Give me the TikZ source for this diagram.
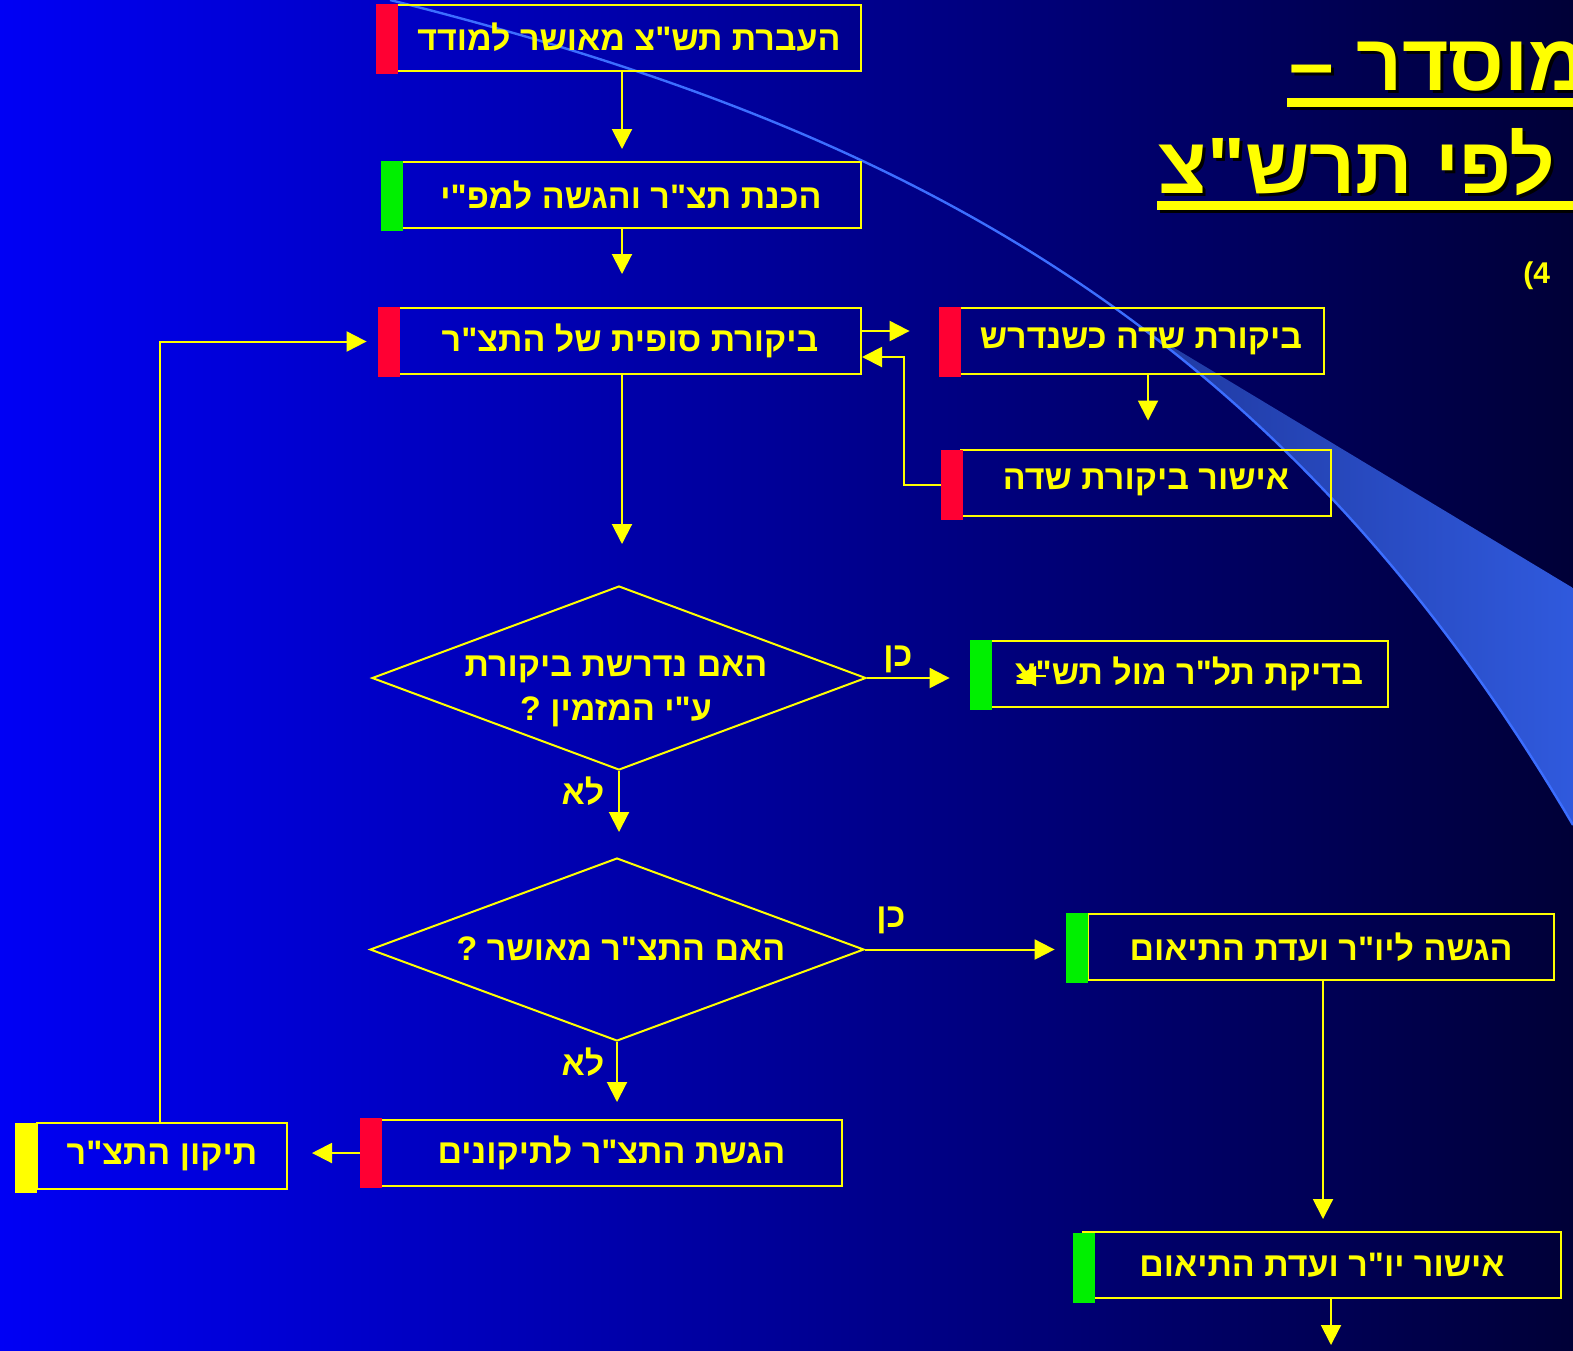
\documentclass[tikz,border=0pt]{standalone}
\usepackage{fontspec}
\usetikzlibrary{arrows.meta,shapes.geometric,calc}
\TeXXeTstate=1
\newfontfamily\heb[Script=Hebrew]{Liberation Sans}
\newfontfamily\latf{Liberation Sans}
\newcommand{\RL}[1]{\beginR#1\endR}
\newcommand{\bt}[2]{\RL{#2}\hspace{#1pt}}
\definecolor{ylw}{RGB}{255,255,0}
\definecolor{redbar}{RGB}{255,0,51}
\definecolor{grnbar}{RGB}{0,240,0}
\definecolor{bgleft}{RGB}{0,0,245}
\definecolor{bgright}{RGB}{0,0,55}
\definecolor{swline}{RGB}{60,110,255}
\definecolor{swA}{RGB}{26,46,140}
\definecolor{swB}{RGB}{48,90,222}
\begin{document}
\begin{tikzpicture}[x=0.5pt,y=-0.5pt,
  box/.style={draw=ylw, line width=1pt, inner sep=0pt, text=ylw,
    font=\heb\bfseries\fontsize{17}{22}\selectfont, minimum height=33pt},
  barR/.style={fill=redbar, minimum width=11pt, minimum height=35pt, inner sep=0pt},
  barG/.style={fill=grnbar, minimum width=11pt, minimum height=35pt, inner sep=0pt},
  barY/.style={fill=ylw, minimum width=11pt, minimum height=35pt, inner sep=0pt},
  dmd/.style={diamond, draw=ylw, line width=1pt, inner sep=0pt},
  dtxt/.style={text=ylw, font=\heb\bfseries\fontsize{17}{22}\selectfont, align=center, inner sep=0pt},
  lbl/.style={text=ylw, font=\heb\bfseries\fontsize{17}{22}\selectfont, inner sep=0pt},
  ttl/.style={font=\heb\bfseries\fontsize{40}{48}\selectfont, inner sep=0pt, anchor=base west},
  arr/.style={draw=ylw, line width=1pt, -{Triangle[length=10pt,width=10pt]}},
]
\useasboundingbox (0,0) rectangle (1573,1350);
\clip (0,0) rectangle (1573,1350);
% background
\shade[left color=bgleft, right color=bgright] (0,0) rectangle (1573,1350);
% swoosh
\begin{scope}
  \clip (390,0) .. controls (890,125) and (1273,315) .. (1573,825) -- (1600,825) -- (1600,-10) -- (390,-10) -- cycle;
  \shade[left color=swA, right color=swB] (1000,243) -- (1573,588) -- (1580,588) -- (1580,900) -- (1000,900) -- cycle;
\end{scope}
\draw[swline, line width=1.2pt] (390,0) .. controls (890,125) and (1273,315) .. (1573,825);
% title
\node[ttl, text=black] (t1s) at (1292,93) {\RL{מוסדר –}};
\node[ttl, text=ylw] (t1) at (1289,90) {\RL{מוסדר –}};
\fill[black] (1290,101) rectangle (1580,110);
\fill[ylw] (1287,98) rectangle (1580,107);
\node[ttl, text=black] (t2s) at (1161,196) {\RL{לפי תרש"צ}};
\node[ttl, text=ylw] (t2) at (1158,193) {\RL{לפי תרש"צ}};
\fill[black] (1160,204) rectangle (1580,213);
\fill[ylw] (1157,201) rectangle (1580,210);
\node[text=ylw, font=\latf\bfseries\fontsize{15}{18}\selectfont, inner sep=0pt, anchor=base west] (t3) at (1523,283) {(4};
% boxes
\node[box, minimum width=232pt] (b1) at (629,37.5) {\bt{7}{העברת תש"צ מאושר למודד}};
\node[barR] (r1) at (387,38.5) {};
\node[box, minimum width=230pt] (b2) at (631,195) {\bt{9}{הכנת תצ"ר והגשה למפ"י}};
\node[barG] (r2) at (391.5,196) {};
\node[box, minimum width=231pt] (b3) at (630,341) {\bt{8}{ביקורת סופית של התצ"ר}};
\node[barR] (r3) at (389,341.5) {};
\node[box, minimum width=183pt] (b4) at (1141,341) {\bt{5}{ביקורת שדה כשנדרש}};
\node[barR] (r4) at (950,342) {};
\node[box, minimum width=185pt] (b5) at (1146,482.5) {\bt{7}{אישור ביקורת שדה}};
\node[barR] (r5) at (952,484.5) {};
\node[box, minimum width=199pt] (b6) at (1189,674) {\bt{9}{בדיקת תל"ר מול תש"צ}};
\node[barG] (r6) at (981,675) {};
\node[box, minimum width=233pt] (b7) at (1321,947) {\bt{7}{הגשה ליו"ר ועדת התיאום}};
\node[barG] (r7) at (1077,948) {};
\node[box, minimum width=239pt] (b8) at (1322,1265) {\bt{1}{אישור יו"ר ועדת התיאום}};
\node[barG] (r8) at (1084,1268) {};
\node[box, minimum width=230.5pt] (b9) at (611.5,1153) {\bt{1.5}{הגשת התצ"ר לתיקונים}};
\node[barR] (r9) at (371,1153) {};
\node[box, minimum width=125pt] (b10) at (162,1155.5) {\bt{3}{תיקון התצ"ר}};
\node[barY] (r10) at (26,1157.5) {};
% diamonds
\node[dmd, minimum width=247pt, minimum height=92pt] (d1) at (619,678) {};
\node[dtxt] (d1t) at (616,691) {\RL{האם נדרשת ביקורת}\\\RL{ע"י המזמין ?}};
\node[dmd, minimum width=247pt, minimum height=91.5pt] (d2) at (617,949.5) {};
\node[dtxt] (d2t) at (621,949) {\RL{האם התצ"ר מאושר ?}};
% labels
\node[lbl] (y1) at (898,659) {\RL{כן}};
\node[lbl] (n1) at (583,791) {\RL{לא}};
\node[lbl] (y2) at (891,920) {\RL{כן}};
\node[lbl] (n2) at (583,1062) {\RL{לא}};
% coordinates
\coordinate (k1) at (904,0);
\coordinate (fin) at (1331,1345);
\coordinate (qa) at (1046,676);
\coordinate (qb) at (1016,676);
% connectors
\draw[arr, shorten >=6pt] ([xshift=-3.5pt]b1.south) -- ([xshift=-3.5pt]b1.south |- b2.north);
\draw[arr, shorten >=16.5pt] ([xshift=-4.5pt]b2.south) -- ([xshift=-4.5pt]b2.south |- b3.north);
\draw[arr, shorten >=14.5pt] ([yshift=5pt]b3.east) -- ([yshift=5pt]b3.east -| r4.west);
\draw[arr, shorten >=14pt] ([xshift=3.5pt]b4.south) -- ([xshift=3.5pt]b4.south |- b5.north);
\draw[arr] (r5.west) -- (r5.west -| k1) |- ([yshift=-8pt]b3.east);
\draw[arr, shorten >=20.5pt] ([xshift=-4pt]b3.south) -- ([xshift=-4pt]b3.south |- d1.north);
\draw[arr, shorten >=10pt] (d1.east) -- (d1.east -| r6.west);
\draw[arr, shorten >=12.5pt] (d1.south) -- (d1.south |- d2.north);
\draw[arr, shorten >=5.5pt] (d2.east) -- (d2.east -| r7.west);
\draw[arr, shorten >=8.5pt] (d2.south) -- (d2.south |- b9.north);
\draw[arr, shorten >=12pt] (r9.west) -- (r9.west -| b10.east);
\draw[arr, shorten >=5.5pt] ([xshift=-1pt]b10.north) |- (r3.west);
\draw[arr, shorten >=6pt] ([xshift=1pt]b7.south) -- ([xshift=1pt]b7.south |- b8.north);
\draw[arr] ([xshift=4.5pt]b8.south) -- (fin);
\draw[arr] (qa) -- (qb);
\end{tikzpicture}
\end{document}
